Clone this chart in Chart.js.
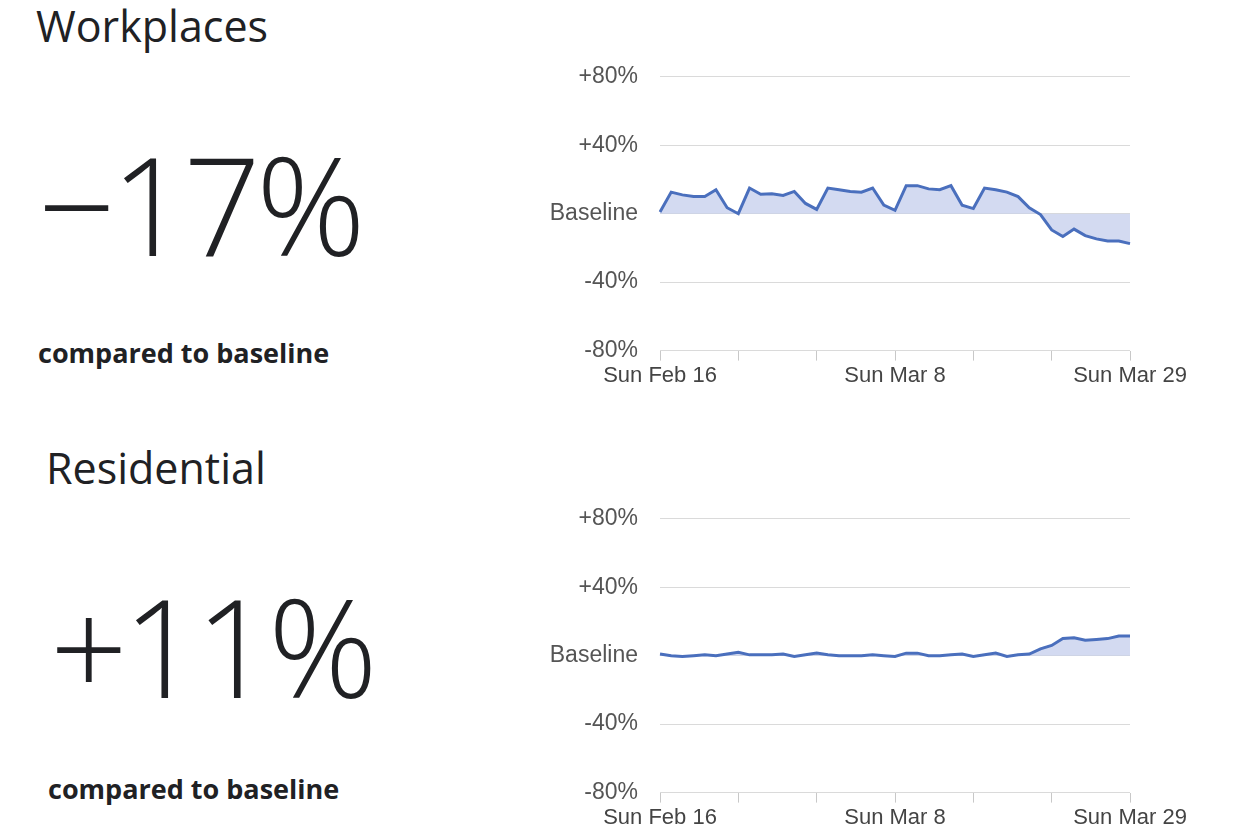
<!DOCTYPE html>
<html>
<head>
<meta charset="utf-8">
<script src="https://cdn.jsdelivr.net/npm/chart.js@4"></script>
<style>
  body { margin: 0; width: 1260px; height: 840px; background: #fff; position: relative; overflow: hidden; font-family: "Open Sans", Roboto, sans-serif; color: #202124; }
  .title { position: absolute; font-size: 43px; }
  .big { position: absolute; font-size: 136px; font-weight: 300; letter-spacing: -5px; line-height: 1; }
  .sub { position: absolute; font-size: 27px; font-weight: 700; }
  .box { position: absolute; left: 500px; width: 720px; height: 350px; }
</style>
</head>
<body>
<div class="title" style="left:36px;top:-4px;">Workplaces</div>
<div class="big" style="left:38px;top:136px;">−17%</div>
<div class="sub" style="left:38px;top:334px;">compared to baseline</div>

<div class="title" style="left:46px;top:438px;">Residential</div>
<div class="big" style="left:50px;top:578px;">+11%</div>
<div class="sub" style="left:48px;top:770px;">compared to baseline</div>

<div class="box" style="top:41px;"><canvas id="workChart"></canvas></div>
<div class="box" style="top:483px;"><canvas id="homeChart"></canvas></div>

<script>
// Feb 16 .. Mar 29, 2020
const startDate = new Date(2020, 1, 16);
const dayLabels = [];
for (let i = 0; i < 43; i++) {
    const d = new Date(startDate);
    d.setDate(startDate.getDate() + i);
    dayLabels.push(d.toLocaleDateString('en-US', { weekday: 'short', month: 'short', day: 'numeric' }).replace(',', ''));
}
const shownTicks = [0, 21, 42];

const workplaces = [1, 12.6, 11, 10, 10, 14, 3.5, 0, 15, 11.4, 11.6, 10.7, 13, 6, 2.5,
    15, 14, 13, 12.6, 15, 5, 2, 16.4, 16.4, 14.5, 14, 16.4, 5, 3, 15, 14, 12.6, 10,
    3.5, -0.5, -9.5, -13.3, -9, -12.8, -14.7, -16, -16, -17.5];
const residential = [1, 0, -0.5, 0, 0.5, 0, 1, 2, 0.5, 0.5, 0.5, 1, -0.5, 0.5, 1.5,
    0.5, 0, 0, 0, 0.5, 0, -0.5, 1.5, 1.5, 0, 0, 0.5, 1, -0.5, 0.5, 1.5, -0.5, 0.5,
    1, 4, 6, 10, 10.5, 9, 9.5, 10, 11.5, 11.5, 11];
residential.length = 43;

const yTicks = { 80: '+80%', 40: '+40%', 0: 'Baseline', '-40': '-40%', '-80': '-80%' };

const makeChart = (id, values) => {
    new Chart(document.getElementById(id), {
        type: 'line',
        data: {
            labels: dayLabels,
            datasets: [{
                data: values,
                borderColor: '#4a6fbd',
                borderWidth: 3,
                backgroundColor: 'rgba(196,205,236,0.75)',
                fill: 'origin',
                pointRadius: 0,
                tension: 0
            }]
        },
        options: {
            responsive: true,
            maintainAspectRatio: false,
            animation: false,
            layout: { padding: { top: 18, right: 90, bottom: 0 } },
            plugins: { legend: { display: false }, tooltip: { enabled: false } },
            scales: {
                y: {
                    min: -80, max: 80,
                    afterFit: (s) => { s.width = 160; },
                    ticks: {
                        stepSize: 40,
                        color: '#555',
                        font: { family: 'Liberation Sans', size: 23 },
                        padding: 22,
                        callback: (v) => yTicks[v]
                    },
                    grid: { color: '#dadada', drawTicks: false },
                    border: { display: false }
                },
                x: {
                    offset: false,
                    grid: {
                        drawOnChartArea: false,
                        tickLength: 10,
                        color: (ctx) => (ctx.index % 7 === 0 ? '#c8c8c8' : 'rgba(0,0,0,0)')
                    },
                    border: { display: false },
                    ticks: {
                        autoSkip: false,
                        maxRotation: 0,
                        color: '#444',
                        padding: 2,
                        font: { family: 'Liberation Sans', size: 22 },
                        callback: (v, i) => (shownTicks.includes(i) ? dayLabels[i] : '')
                    }
                }
            }
        }
    });
};

makeChart('workChart', workplaces);
makeChart('homeChart', residential);
</script>
</body>
</html>
